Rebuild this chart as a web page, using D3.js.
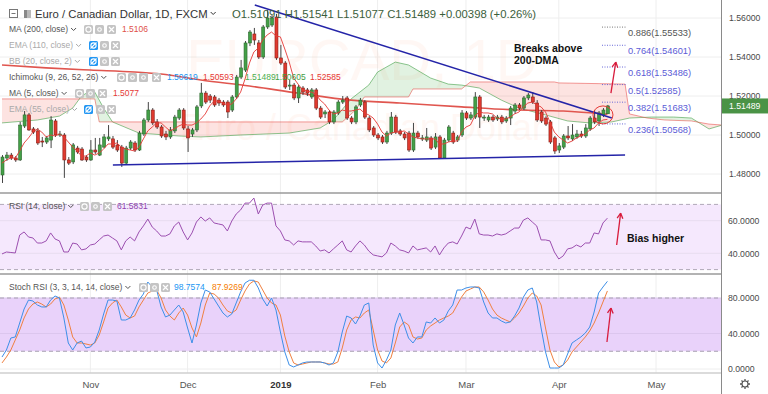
<!DOCTYPE html>
<html>
<head>
<meta charset="utf-8">
<script src="https://cdn.jsdelivr.net/npm/d3@7"></script>
<style>
  body { margin: 0; background: #fff; }
  svg { display: block; font-family: "Liberation Sans", Arial, sans-serif; }
</style>
</head>
<body>
<svg id="chart" width="768" height="394"></svg>
<script>
const width = 768;
const height = 394;
const plotRight = 721;

// month ticks are bar indices (bar 0 = 4 Oct 2018, daily bars Mon-Fri)
const monthTicks = [20, 42, 63, 85, 105, 126, 148];
const monthLabels = ["Nov", "Dec", "2019", "Feb", "Mar", "Apr", "May"];
const priceTicks = [1.48, 1.50, 1.52, 1.54, 1.56];
const rsiTicks = [40, 60];
const stochTicks = [0, 40, 80];

// open, high, low, close
const candles = [
  [1.4795,1.4897,1.4754,1.4887],[1.4882,1.4913,1.4867,1.4897],[1.4897,1.4908,1.4872,1.4882],[1.4882,1.4892,1.4862,1.4872],
  [1.4872,1.5067,1.4867,1.5051],[1.5046,1.5123,1.5036,1.5103],[1.5103,1.5113,1.5021,1.5026],[1.5031,1.5041,1.5005,1.5015],
  [1.5021,1.5036,1.4949,1.4959],[1.4969,1.4990,1.4938,1.4964],[1.4964,1.4995,1.4954,1.4985],[1.4974,1.5097,1.4933,1.5077],
  [1.5072,1.5082,1.4990,1.5000],[1.5000,1.5021,1.4990,1.5005],[1.5000,1.5010,1.4780,1.4872],[1.4872,1.4887,1.4846,1.4856],
  [1.4862,1.4959,1.4851,1.4949],[1.4933,1.4944,1.4903,1.4913],[1.4928,1.4938,1.4867,1.4872],[1.4887,1.4897,1.4862,1.4872],
  [1.4872,1.4974,1.4867,1.4923],[1.4923,1.4985,1.4903,1.4913],[1.4897,1.4985,1.4892,1.4949],[1.4938,1.5005,1.4933,1.4990],
  [1.4980,1.5051,1.4969,1.4990],[1.4980,1.4995,1.4928,1.4938],[1.4949,1.4974,1.4913,1.4923],[1.4938,1.4949,1.4836,1.4856],
  [1.4856,1.4944,1.4851,1.4933],[1.4933,1.4974,1.4923,1.4964],[1.4959,1.4969,1.4913,1.4923],[1.4923,1.5021,1.4918,1.5010],
  [1.5005,1.5087,1.4995,1.5077],[1.5077,1.5169,1.5067,1.5128],[1.5128,1.5138,1.5051,1.5062],[1.5067,1.5082,1.5031,1.5041],
  [1.5041,1.5051,1.4985,1.4995],[1.5005,1.5021,1.4974,1.4990],[1.4990,1.5041,1.4980,1.5026],[1.5021,1.5103,1.5010,1.5092],
  [1.5087,1.5138,1.5077,1.5128],[1.5128,1.5138,1.5026,1.5036],[1.5031,1.5046,1.4913,1.4985],[1.5005,1.5036,1.4990,1.5026],
  [1.5026,1.5154,1.5015,1.5144],[1.5149,1.5267,1.5138,1.5215],[1.5215,1.5226,1.5159,1.5169],[1.5200,1.5210,1.5164,1.5179],
  [1.5195,1.5205,1.5144,1.5154],[1.5179,1.5190,1.5149,1.5164],[1.5169,1.5179,1.5144,1.5154],[1.5169,1.5179,1.5087,1.5118],
  [1.5128,1.5205,1.5118,1.5195],[1.5195,1.5308,1.5185,1.5297],[1.5297,1.5385,1.5287,1.5344],[1.5333,1.5482,1.5323,1.5472],
  [1.5472,1.5538,1.5456,1.5528],[1.5518,1.5549,1.5462,1.5487],[1.5472,1.5487,1.5390,1.5400],[1.5400,1.5564,1.5390,1.5554],
  [1.5554,1.5641,1.5544,1.5600],[1.5564,1.5615,1.5554,1.5600],[1.5605,1.5621,1.5385,1.5395],[1.5395,1.5462,1.5359,1.5369],
  [1.5369,1.5379,1.5236,1.5246],[1.5251,1.5282,1.5231,1.5256],[1.5256,1.5267,1.5179,1.5190],[1.5190,1.5256,1.5164,1.5246],
  [1.5241,1.5251,1.5205,1.5220],[1.5231,1.5241,1.5200,1.5215],[1.5195,1.5241,1.5185,1.5231],[1.5231,1.5241,1.5128,1.5138],
  [1.5138,1.5149,1.5082,1.5092],[1.5108,1.5128,1.5087,1.5118],[1.5118,1.5128,1.5056,1.5067],[1.5067,1.5128,1.5056,1.5118],
  [1.5113,1.5179,1.5103,1.5169],[1.5169,1.5200,1.5159,1.5179],[1.5190,1.5200,1.5077,1.5087],[1.5087,1.5097,1.5056,1.5067],
  [1.5067,1.5154,1.5056,1.5144],[1.5154,1.5190,1.5144,1.5179],[1.5169,1.5179,1.5082,1.5092],[1.5087,1.5097,1.5015,1.5026],
  [1.5036,1.5046,1.4990,1.5000],[1.5000,1.5010,1.4974,1.4985],[1.4990,1.5000,1.4954,1.4964],[1.4964,1.5021,1.4954,1.5010],
  [1.5010,1.5118,1.5000,1.5092],[1.5092,1.5103,1.5005,1.5015],[1.5021,1.5031,1.4995,1.5005],[1.5005,1.5015,1.4974,1.4985],
  [1.5010,1.5021,1.4913,1.4923],[1.4923,1.5062,1.4913,1.5010],[1.5010,1.5021,1.4980,1.4990],[1.4985,1.5000,1.4969,1.4985],
  [1.4974,1.5036,1.4964,1.4990],[1.4985,1.4995,1.4923,1.4933],[1.4938,1.5010,1.4928,1.4990],[1.4990,1.5000,1.4877,1.4882],
  [1.4882,1.4985,1.4877,1.4974],[1.4974,1.5051,1.4964,1.5041],[1.5010,1.5021,1.4954,1.4964],[1.4974,1.5000,1.4964,1.4990],
  [1.5000,1.5128,1.4990,1.5113],[1.5113,1.5123,1.5077,1.5087],[1.5087,1.5118,1.5077,1.5103],[1.5092,1.5220,1.5082,1.5195],
  [1.5195,1.5205,1.5036,1.5092],[1.5087,1.5103,1.5072,1.5092],[1.5077,1.5103,1.5067,1.5092],[1.5092,1.5103,1.5067,1.5077],
  [1.5082,1.5103,1.5072,1.5092],[1.5092,1.5103,1.5056,1.5067],[1.5072,1.5097,1.5062,1.5087],[1.5087,1.5149,1.5051,1.5138],
  [1.5123,1.5164,1.5108,1.5154],[1.5154,1.5164,1.5128,1.5138],[1.5138,1.5200,1.5128,1.5190],[1.5190,1.5215,1.5179,1.5205],
  [1.5195,1.5220,1.5159,1.5169],[1.5164,1.5179,1.5067,1.5077],[1.5118,1.5128,1.5062,1.5072],[1.5087,1.5097,1.5046,1.5056],
  [1.5067,1.5077,1.4954,1.4964],[1.4985,1.4995,1.4903,1.4918],[1.4923,1.4959,1.4908,1.4944],[1.4938,1.5005,1.4928,1.4995],
  [1.4995,1.5046,1.4974,1.4985],[1.4980,1.5056,1.4969,1.5000],[1.4990,1.5026,1.4980,1.5005],[1.5005,1.5021,1.4985,1.4995],
  [1.4995,1.5056,1.4985,1.5036],[1.5031,1.5097,1.5021,1.5087],[1.5087,1.5128,1.5056,1.5067],[1.5072,1.5123,1.5046,1.5113],
  [1.5103,1.5138,1.5092,1.5128],[1.51091,1.51541,1.51077,1.51489]
];

const ma5 = [
  1.4856,1.4872,1.4882,1.4882,1.4918,1.4959,1.4985,1.5015,1.5031,1.5015,
  1.4990,1.5000,1.4995,1.5005,1.4990,1.4964,1.4938,1.4918,1.4892,1.4892,
  1.4908,1.4897,1.4908,1.4928,1.4954,1.4954,1.4959,1.4938,1.4928,1.4923,
  1.4918,1.4938,1.4980,1.5021,1.5041,1.5062,1.5062,1.5041,1.5021,1.5031,
  1.5046,1.5056,1.5051,1.5051,1.5062,1.5082,1.5108,1.5149,1.5174,1.5174,
  1.5164,1.5154,1.5159,1.5185,1.5220,1.5287,1.5369,1.5426,1.5446,1.5487,
  1.5513,1.5528,1.5508,1.5503,1.5441,1.5374,1.5292,1.5261,1.5231,1.5226,
  1.5220,1.5210,1.5179,1.5159,1.5128,1.5108,1.5113,1.5128,1.5123,1.5123,
  1.5128,1.5133,1.5113,1.5103,1.5087,1.5056,1.5015,1.4995,1.5010,1.5015,
  1.5015,1.5021,1.5005,1.4990,1.4985,1.4980,1.4980,1.4980,1.4980,1.4954,
  1.4954,1.4964,1.4969,1.4969,1.5015,1.5041,1.5051,1.5097,1.5118,1.5113,
  1.5113,1.5108,1.5087,1.5082,1.5082,1.5092,1.5108,1.5118,1.5144,1.5164,
  1.5169,1.5154,1.5144,1.5118,1.5067,1.5015,1.4990,1.4974,1.4959,1.4969,
  1.4985,1.4995,1.5005,1.5026,1.5036,1.5062,1.5077,1.5080
];

// MA 200 read at a few bars [bar, price]
const ma200 = [[0,1.5359],[10,1.5344],[20,1.5333],[30,1.5323],[36,1.5313],[45,1.5282],[56,1.5251],
  [67,1.5215],[79,1.5179],[90,1.5164],[104,1.5144],[117,1.5128],[127,1.5123],[137,1.5106]];

// Ichimoku leading spans (shifted 26 bars forward) [bar, price]
const spanA = [[0,1.5062],[8,1.5077],[13,1.5097],[16,1.5138],[18,1.5200],[20,1.5226],[21,1.5220],[23,1.5138],
  [25,1.5067],[31,1.5010],[40,1.4995],[45,1.4990],[54,1.5000],[65,1.5010],[72,1.5036],[75,1.5077],[79,1.5185],
  [83,1.5256],[85,1.5323],[89,1.5374],[92,1.5359],[97,1.5292],[101,1.5261],[104,1.5256],[108,1.5241],[113,1.5179],
  [117,1.5138],[123,1.5103],[128,1.5072],[133,1.5062],[138,1.5067],[142,1.5087],[147,1.5092],[152,1.5092],
  [156,1.5087],[160,1.5031],[163,1.5051]];
const spanB = [[0,1.5185],[21,1.5185],[22,1.5067],[77,1.5067],[78,1.5087],[80,1.5128],[82,1.5195],[92,1.5195],
  [93,1.5236],[104,1.5236],[106,1.5272],[125,1.5272],[126,1.5267],[141,1.5261],[142,1.5108],[146,1.5087],
  [150,1.5077],[156,1.5072],[160,1.5056],[163,1.5051]];

const rsi = [
  39.6,40.8,40.5,40.2,51.2,53.1,50.0,49.4,46.3,46.3,
  47.6,52.5,48.8,47.6,40.8,40.8,46.3,45.7,42.1,42.7,
  45.1,45.7,48.2,50.6,51.2,49.4,47.6,42.1,47.6,50.0,
  47.6,53.1,56.8,61.0,56.1,53.7,50.6,50.6,51.9,56.8,
  59.2,53.1,48.2,52.5,59.2,62.3,59.8,61.7,58.6,58.0,
  57.4,53.7,59.8,64.1,66.6,70.8,70.8,73.9,64.1,69.6,
  70.8,70.8,56.8,53.7,48.2,47.6,45.1,47.6,47.0,47.0,
  47.0,44.5,41.4,42.1,40.2,42.7,45.1,47.6,42.1,40.8,
  44.5,47.6,45.1,41.4,39.0,38.4,37.8,40.2,46.3,44.5,
  42.1,41.4,40.2,44.5,42.1,42.7,43.3,40.8,44.5,39.0,
  43.3,46.3,47.0,45.7,50.6,56.1,54.9,61.0,51.9,51.2,
  51.2,50.6,51.9,51.2,51.9,53.7,55.5,55.5,60.4,61.7,
  59.2,56.8,48.2,48.2,47.6,40.8,36.5,38.4,42.7,43.3,
  45.1,43.9,46.3,46.3,52.5,51.9,58.6,61.58
];

const stochK = [
  13.5,21.4,34.9,36.1,51.8,67.6,77.7,76.6,72.1,69.9,
  69.9,77.7,82.3,80.0,57.5,29.3,21.4,29.3,31.5,23.7,
  24.8,30.4,43.9,62.0,77.7,77.7,76.6,55.2,55.2,57.5,
  66.5,77.7,84.5,98.0,92.4,89.0,69.9,58.6,60.8,66.5,
  72.1,64.2,46.2,29.3,49.6,74.4,89.0,86.8,78.9,71.0,
  63.1,58.6,62.0,74.4,86.8,96.9,100,100,91.3,78.9,
  71.0,80.0,66.5,41.7,19.2,4.5,2.3,4.5,6.8,7.9,
  7.9,7.9,7.9,6.8,4.5,6.8,19.2,41.7,59.7,57.5,
  50.7,59.7,72.1,74.4,27.0,6.8,1.1,10.1,21.4,49.6,
  63.1,49.6,34.9,29.3,36.1,36.1,53.0,51.8,57.5,51.8,
  55.2,65.4,72.1,89.0,89.0,91.3,92.4,92.4,91.3,75.5,
  63.1,57.5,57.5,54.1,51.8,53.0,59.7,68.7,81.1,89.0,
  91.3,75.5,46.2,19.2,1.1,1.1,1.1,4.5,16.9,29.3,
  32.7,36.1,40.6,47.3,64.2,85.6,92.4,98.76
];

const stochD = [
  6.8,13.5,21.4,32.7,43.9,57.5,67.6,73.2,75.5,73.2,
  69.9,73.2,78.9,81.1,72.1,55.2,36.1,29.3,29.3,28.2,
  27.0,29.3,38.3,53.0,68.7,74.4,77.7,69.9,60.8,57.5,
  59.7,69.9,77.7,85.6,87.9,89.0,80.0,66.5,59.7,55.2,
  63.1,68.7,60.8,46.2,36.1,51.8,72.1,85.6,84.5,80.0,
  72.1,65.4,63.1,66.5,77.7,87.9,95.8,99.2,98.0,89.0,
  80.0,74.4,72.1,60.8,37.2,19.2,6.8,4.5,5.6,6.8,
  7.9,7.9,7.9,6.8,5.6,5.6,7.9,23.7,43.9,55.2,
  58.6,57.5,63.1,66.5,43.9,21.4,9.0,6.8,12.4,29.3,
  47.3,53.0,49.6,36.1,33.8,34.9,43.9,48.5,51.8,55.2,
  57.5,59.7,63.1,72.1,81.1,87.9,90.1,92.4,92.4,86.8,
  77.7,67.6,60.8,57.5,55.2,53.0,57.5,63.1,71.0,80.0,
  85.6,82.3,72.1,46.2,21.4,7.9,2.3,4.5,10.1,19.2,
  24.8,30.4,36.1,42.8,51.8,63.1,75.5,87.93
];

const fibRatios = ["0.236", "0.382", "0.5", "0.618", "0.764", "0.886"];
const fibPrices = [1.50568, 1.51683, 1.52585, 1.53486, 1.54601, 1.55533];

// drawn trendlines [bar, price]
const upperTrend = [[57.2, 1.5667], [138, 1.5087]];
const lowerTrend = [[25.1, 1.4846], [141, 1.4897]];

const svg = d3.select("#chart");

const x = d3.scaleLinear().domain([0, 148]).range([2, 656]);
const y = d3.scaleLinear().domain([1.48, 1.56]).range([174, 18]);
const yRsi = d3.scaleLinear().domain([40, 60]).range([253.3, 220.7]);
const ySt = d3.scaleLinear().domain([0, 80]).range([369, 298]);

svg.append("rect").attr("width", width).attr("height", height).attr("fill", "#fff");

const defs = svg.append("defs");
defs.append("clipPath").attr("id", "clipMain").append("rect")
  .attr("x", 0).attr("y", 0).attr("width", plotRight).attr("height", 193);
defs.append("clipPath").attr("id", "clipRsi").append("rect")
  .attr("x", 0).attr("y", 194).attr("width", plotRight).attr("height", 79);
defs.append("clipPath").attr("id", "clipSt").append("rect")
  .attr("x", 0).attr("y", 275).attr("width", plotRight).attr("height", 97);

// grid
svg.append("g").selectAll("line").data(monthTicks).enter().append("line")
  .attr("x1", d => x(d)).attr("x2", d => x(d))
  .attr("y1", 0).attr("y2", 373)
  .attr("stroke", "#eeeeee").attr("stroke-width", 1);
svg.append("g").selectAll("line").data(priceTicks).enter().append("line")
  .attr("x1", 0).attr("x2", plotRight)
  .attr("y1", d => y(d)).attr("y2", d => y(d))
  .attr("stroke", "#eeeeee");

// watermark
svg.append("text").attr("x", 362).attr("y", 80).attr("text-anchor", "middle")
  .style("font-size", "58px").attr("fill", "#ff8a50").attr("opacity", 0.06)
  .text("EURCAD, 1D");
svg.append("text").attr("x", 362).attr("y", 140).attr("text-anchor", "middle")
  .style("font-size", "36px").attr("fill", "#ff8a50").attr("opacity", 0.06)
  .text("Euro / Canadian Dollar");

// ---------- main pane ----------
const main = svg.append("g").attr("clip-path", "url(#clipMain)");

const aAt = d3.scaleLinear().domain(spanA.map(d => d[0])).range(spanA.map(d => d[1]));
const bAt = d3.scaleLinear().domain(spanB.map(d => d[0])).range(spanB.map(d => d[1]));
const cloud = d3.range(0, 163.01, 0.25).map(i => ({ i, a: aAt(i), b: bAt(i) }));

main.append("path").datum(cloud)
  .attr("fill", "rgba(76,175,80,0.17)")
  .attr("d", d3.area().x(d => x(d.i)).y0(d => y(d.b)).y1(d => y(Math.max(d.a, d.b))));
main.append("path").datum(cloud)
  .attr("fill", "rgba(244,67,54,0.15)")
  .attr("d", d3.area().x(d => x(d.i)).y0(d => y(d.a)).y1(d => y(Math.max(d.a, d.b))));

const pairLine = d3.line().x(d => x(d[0])).y(d => y(d[1]));
main.append("path").datum(spanA).attr("d", pairLine)
  .attr("fill", "none").attr("stroke", "rgba(67,160,71,0.6)").attr("stroke-width", 1);
main.append("path").datum(spanB).attr("d", pairLine)
  .attr("fill", "none").attr("stroke", "rgba(229,57,53,0.5)").attr("stroke-width", 1);

main.append("path").datum(ma200).attr("d", pairLine.curve(d3.curveMonotoneX))
  .attr("fill", "none").attr("stroke", "#e0564f").attr("stroke-width", 1.6);

const bars = main.append("g").selectAll("g").data(candles).enter().append("g");
bars.append("line")
  .attr("x1", (d, i) => x(i) + 0.5).attr("x2", (d, i) => x(i) + 0.5)
  .attr("y1", d => y(d[1])).attr("y2", d => y(d[2]))
  .attr("stroke", "#444").attr("stroke-width", 1);
bars.append("rect")
  .attr("x", (d, i) => x(i) - 1)
  .attr("y", d => y(Math.max(d[0], d[3])))
  .attr("width", 3)
  .attr("height", d => Math.max(1, Math.abs(y(d[0]) - y(d[3]))))
  .attr("fill", d => d[3] >= d[0] ? "#43a047" : "#e03a2f")
  .attr("stroke", d => d[3] >= d[0] ? "#2e6930" : "#8b1c14")
  .attr("stroke-width", 0.6);

main.append("path").datum(ma5)
  .attr("d", d3.line().x((d, i) => x(i)).y(d => y(d)))
  .attr("fill", "none").attr("stroke", "#e53935").attr("stroke-width", 0.9);

// trendlines
[upperTrend, lowerTrend].forEach(t => {
  main.append("line")
    .attr("x1", x(t[0][0])).attr("y1", y(t[0][1]))
    .attr("x2", x(t[1][0])).attr("y2", y(t[1][1]))
    .attr("stroke", "#2424a8").attr("stroke-width", 1.5);
});

// fibonacci levels
fibPrices.forEach((p, i) => {
  const col = i === 5 ? "#777" : "#6a6ad8";
  main.append("line")
    .attr("x1", 602).attr("x2", 627).attr("y1", y(p)).attr("y2", y(p))
    .attr("stroke", col).attr("stroke-width", 1).attr("stroke-dasharray", "1,1.5");
  main.append("text")
    .attr("x", 628).attr("y", y(p) + 9)
    .style("font-size", "9.3px").attr("fill", i === 5 ? "#555" : "#5b5bd6")
    .text(`${fibRatios[i]}(${p.toFixed(5)})`);
});

// annotations
main.append("ellipse")
  .attr("cx", x(136)).attr("cy", y(1.5103)).attr("rx", 10).attr("ry", 9)
  .attr("fill", "none").attr("stroke", "#e53935").attr("stroke-width", 1);

function arrow(g, x1, y1, x2, y2) {
  g.append("line").attr("x1", x1).attr("y1", y1).attr("x2", x2).attr("y2", y2)
    .attr("stroke", "#d81b3c").attr("stroke-width", 1.3);
  const a = Math.atan2(y2 - y1, x2 - x1);
  [0.5, -0.5].forEach(o => {
    g.append("line").attr("x1", x2).attr("y1", y2)
      .attr("x2", x2 - 6 * Math.cos(a + o)).attr("y2", y2 - 6 * Math.sin(a + o))
      .attr("stroke", "#d81b3c").attr("stroke-width", 1.3);
  });
}
arrow(main, x(137.8), y(1.5215), x(138.9), y(1.5374));

svg.append("text").attr("x", 514).attr("y", 52)
  .style("font-size", "10.5px").style("font-weight", "bold").attr("fill", "#111")
  .text("Breaks above");
svg.append("text").attr("x", 514).attr("y", 64)
  .style("font-size", "10.5px").style("font-weight", "bold").attr("fill", "#111")
  .text("200-DMA");

// ---------- RSI pane ----------
svg.append("rect").attr("x", 0).attr("width", plotRight)
  .attr("y", yRsi(70)).attr("height", yRsi(30) - yRsi(70)).attr("fill", "#f5e8fd");
svg.append("g").selectAll("line").data(rsiTicks).enter().append("line")
  .attr("x1", 0).attr("x2", plotRight).attr("y1", d => yRsi(d)).attr("y2", d => yRsi(d))
  .attr("stroke", "#e8dcef");
[70, 30].forEach(v => {
  svg.append("line").attr("x1", 0).attr("x2", plotRight).attr("y1", yRsi(v)).attr("y2", yRsi(v))
    .attr("stroke", "#b0a8b8").attr("stroke-dasharray", "4,3");
});
const rsiG = svg.append("g").attr("clip-path", "url(#clipRsi)");
rsiG.append("path").datum(rsi)
  .attr("d", d3.line().x((d, i) => x(i)).y(d => yRsi(d)))
  .attr("fill", "none").attr("stroke", "#9c4fb0").attr("stroke-width", 1);
arrow(svg, x(139.1), yRsi(45.1), x(140), yRsi(64.6));
svg.append("text").attr("x", 627).attr("y", 242)
  .style("font-size", "10.5px").style("font-weight", "bold").attr("fill", "#111")
  .text("Bias higher");

// ---------- Stoch RSI pane ----------
svg.append("rect").attr("x", 0).attr("width", plotRight)
  .attr("y", ySt(80)).attr("height", ySt(20) - ySt(80)).attr("fill", "#e9d2fa");
svg.append("g").selectAll("line").data(stochTicks).enter().append("line")
  .attr("x1", 0).attr("x2", plotRight).attr("y1", d => ySt(d)).attr("y2", d => ySt(d))
  .attr("stroke", d => d === 0 ? "#eeeeee" : "#dcc6ee");
[80, 20].forEach(v => {
  svg.append("line").attr("x1", 0).attr("x2", plotRight).attr("y1", ySt(v)).attr("y2", ySt(v))
    .attr("stroke", "#a79fb0").attr("stroke-dasharray", "4,3");
});
const stG = svg.append("g").attr("clip-path", "url(#clipSt)");
stG.append("path").datum(stochD)
  .attr("d", d3.line().x((d, i) => x(i)).y(d => ySt(d)))
  .attr("fill", "none").attr("stroke", "#f08040").attr("stroke-width", 1);
stG.append("path").datum(stochK)
  .attr("d", d3.line().x((d, i) => x(i)).y(d => ySt(d)))
  .attr("fill", "none").attr("stroke", "#3d8fe8").attr("stroke-width", 1);
arrow(svg, x(136.9), ySt(30.4), x(137.8), ySt(68.7));

// ---------- legends ----------
function chevron(x0, y0, col) {
  svg.append("path").attr("d", `M${x0},${y0} l2.5,2.5 l2.5,-2.5`)
    .attr("fill", "none").attr("stroke", col).attr("stroke-width", 1);
}
function icons(xs, y0, blueFirst) {
  xs.forEach((x0, k) => {
    const blue = blueFirst && k === 0;
    svg.append("rect").attr("x", x0).attr("y", y0).attr("width", 9).attr("height", 9).attr("rx", 1.5)
      .attr("fill", blue ? "#2196f3" : "#c4c4c4");
    const cx = x0 + 4.5, cy = y0 + 4.5;
    if (k === xs.length - 1) {
      svg.append("path").attr("d", `M${cx - 2.5},${cy - 2.5}L${cx + 2.5},${cy + 2.5}M${cx + 2.5},${cy - 2.5}L${cx - 2.5},${cy + 2.5}`)
        .attr("stroke", "#fff").attr("stroke-width", 1.2);
    } else {
      svg.append("circle").attr("cx", cx).attr("cy", cy).attr("r", k === 0 ? 2.6 : 1.8)
        .attr("fill", "none").attr("stroke", "#fff").attr("stroke-width", 1.1);
      if (blue) svg.append("line").attr("x1", cx - 3).attr("y1", cy + 3).attr("x2", cx + 3).attr("y2", cy - 3)
        .attr("stroke", "#fff").attr("stroke-width", 1.1);
    }
  });
}
function label(x0, y0, txt, col, size) {
  const t = svg.append("text").attr("x", x0).attr("y", y0)
    .style("font-size", (size || 8.5) + "px").attr("fill", col).text(txt);
  return t.node().getComputedTextLength();
}

// title row
svg.append("rect").attr("x", 9.5).attr("y", 9.5).attr("width", 8).attr("height", 8)
  .attr("fill", "none").attr("stroke", "#777");
svg.append("line").attr("x1", 11.5).attr("x2", 15.5).attr("y1", 13.5).attr("y2", 13.5).attr("stroke", "#777");
svg.append("rect").attr("x", 24).attr("y", 10).attr("width", 7).attr("height", 8).attr("fill", "#b8b8b8");
svg.append("rect").attr("x", 24).attr("y", 10).attr("width", 3).attr("height", 8).attr("fill", "#888");
const tw = label(35, 18, "Euro / Canadian Dollar, 1D, FXCM", "#333", 11.3);
chevron(35 + tw + 3, 12, "#333");
label(232, 18, "O1.51091  H1.51541  L1.51077  C1.51489  +0.00398 (+0.26%)", "#3b5e3b", 11.3);

const shown = "#555", hidden = "#aaa";
let w;
w = label(9, 32, "MA (200, close)", shown); chevron(9 + w + 3, 28, shown);
icons([84, 95, 107], 25, false);
label(122, 32, "1.5106", "#e0504a");

w = label(9, 48, "EMA (110, close)", hidden); chevron(9 + w + 3, 44, hidden);
icons([89, 100, 111], 41, true);

w = label(9, 64, "BB (20, close, 2)", hidden); chevron(9 + w + 3, 60, hidden);
icons([89, 100, 111], 57, true);

w = label(9, 80, "Ichimoku (9, 26, 52, 26)", shown); chevron(9 + w + 3, 76, shown);
icons([117, 128, 139, 152], 73, false);
label(167, 80, "1.50619", "#2196f3");
label(203, 80, "1.50593", "#e53935");
label(245, 80, "1.51489", "#4caf50");
label(275, 80, "1.50605", "#43a047");
label(310, 80, "1.52585", "#e53935");

w = label(9, 96, "MA (5, close)", shown); chevron(9 + w + 3, 92, shown);
icons([75, 86, 98], 89, false);
label(113, 96, "1.5077", "#e53935");

w = label(9, 112, "EMA (55, close)", hidden); chevron(9 + w + 3, 108, hidden);
icons([84, 96, 107], 105, true);

w = label(9, 209, "RSI (14, close)", shown); chevron(9 + w + 3, 205, shown);
icons([80, 91, 103], 202, false);
label(117, 209, "61.5831", "#8e44ad");

w = label(9, 290, "Stoch RSI (3, 3, 14, 14, close)", shown); chevron(9 + w + 3, 286, shown);
icons([139, 150, 161], 283, false);
label(174, 290, "98.7574", "#2196f3");
label(212, 290, "87.9269", "#f57c00");

// ---------- axes & frame ----------
[193, 274].forEach(yy => {
  svg.append("line").attr("x1", 0).attr("x2", plotRight).attr("y1", yy).attr("y2", yy)
    .attr("stroke", "#9a9a9a").attr("stroke-width", 1.5);
});
svg.append("line").attr("x1", 0).attr("x2", plotRight).attr("y1", 373).attr("y2", 373)
  .attr("stroke", "#cfcfcf").attr("stroke-width", 1.5);
svg.append("line").attr("x1", plotRight + 0.5).attr("x2", plotRight + 0.5).attr("y1", 0).attr("y2", height)
  .attr("stroke", "#8a8a8a").attr("stroke-width", 1);

function styleAxis(g) {
  g.select(".domain").remove();
  g.selectAll("text").style("font-size", "8.7px").attr("fill", "#4a4a4a")
    .style("font-family", "'Liberation Sans', Arial, sans-serif");
}
svg.append("g").attr("transform", `translate(${plotRight},0)`)
  .call(d3.axisRight(y).tickValues(priceTicks).tickFormat(d3.format(".5f")).tickSize(0).tickPadding(8))
  .call(styleAxis);
svg.append("g").attr("transform", `translate(${plotRight},0)`)
  .call(d3.axisRight(yRsi).tickValues(rsiTicks).tickFormat(d3.format(".4f")).tickSize(0).tickPadding(7))
  .call(styleAxis);
svg.append("g").attr("transform", `translate(${plotRight},0)`)
  .call(d3.axisRight(ySt).tickValues(stochTicks).tickFormat(d3.format(".4f")).tickSize(0).tickPadding(7))
  .call(styleAxis);

const xAxis = svg.append("g").attr("transform", "translate(0,373)")
  .call(d3.axisBottom(x).tickValues(monthTicks).tickFormat((d, i) => monthLabels[i]).tickSize(0).tickPadding(8))
  .call(styleAxis);
xAxis.selectAll("text").style("font-size", "9.5px").attr("fill", "#555")
  .filter(d => d === 63).style("font-weight", "bold").attr("fill", "#333");

// last price label
const last = candles[candles.length - 1][3];
svg.append("rect").attr("x", plotRight + 1).attr("y", y(last) - 7.5).attr("width", 46).attr("height", 15)
  .attr("fill", "#4a9346");
svg.append("text").attr("x", 729).attr("y", y(last) + 3.2)
  .style("font-size", "8.7px").attr("fill", "#fff").text(last.toFixed(5));

// gear
const gear = svg.append("g").attr("transform", "translate(745,384)");
d3.range(8).forEach(k => {
  const a = k * Math.PI / 4;
  gear.append("line").attr("x1", 3 * Math.cos(a)).attr("y1", 3 * Math.sin(a))
    .attr("x2", 5 * Math.cos(a)).attr("y2", 5 * Math.sin(a)).attr("stroke", "#555").attr("stroke-width", 1.3);
});
gear.append("circle").attr("r", 3).attr("fill", "#fff").attr("stroke", "#555").attr("stroke-width", 1.1);
</script>
</body>
</html>
